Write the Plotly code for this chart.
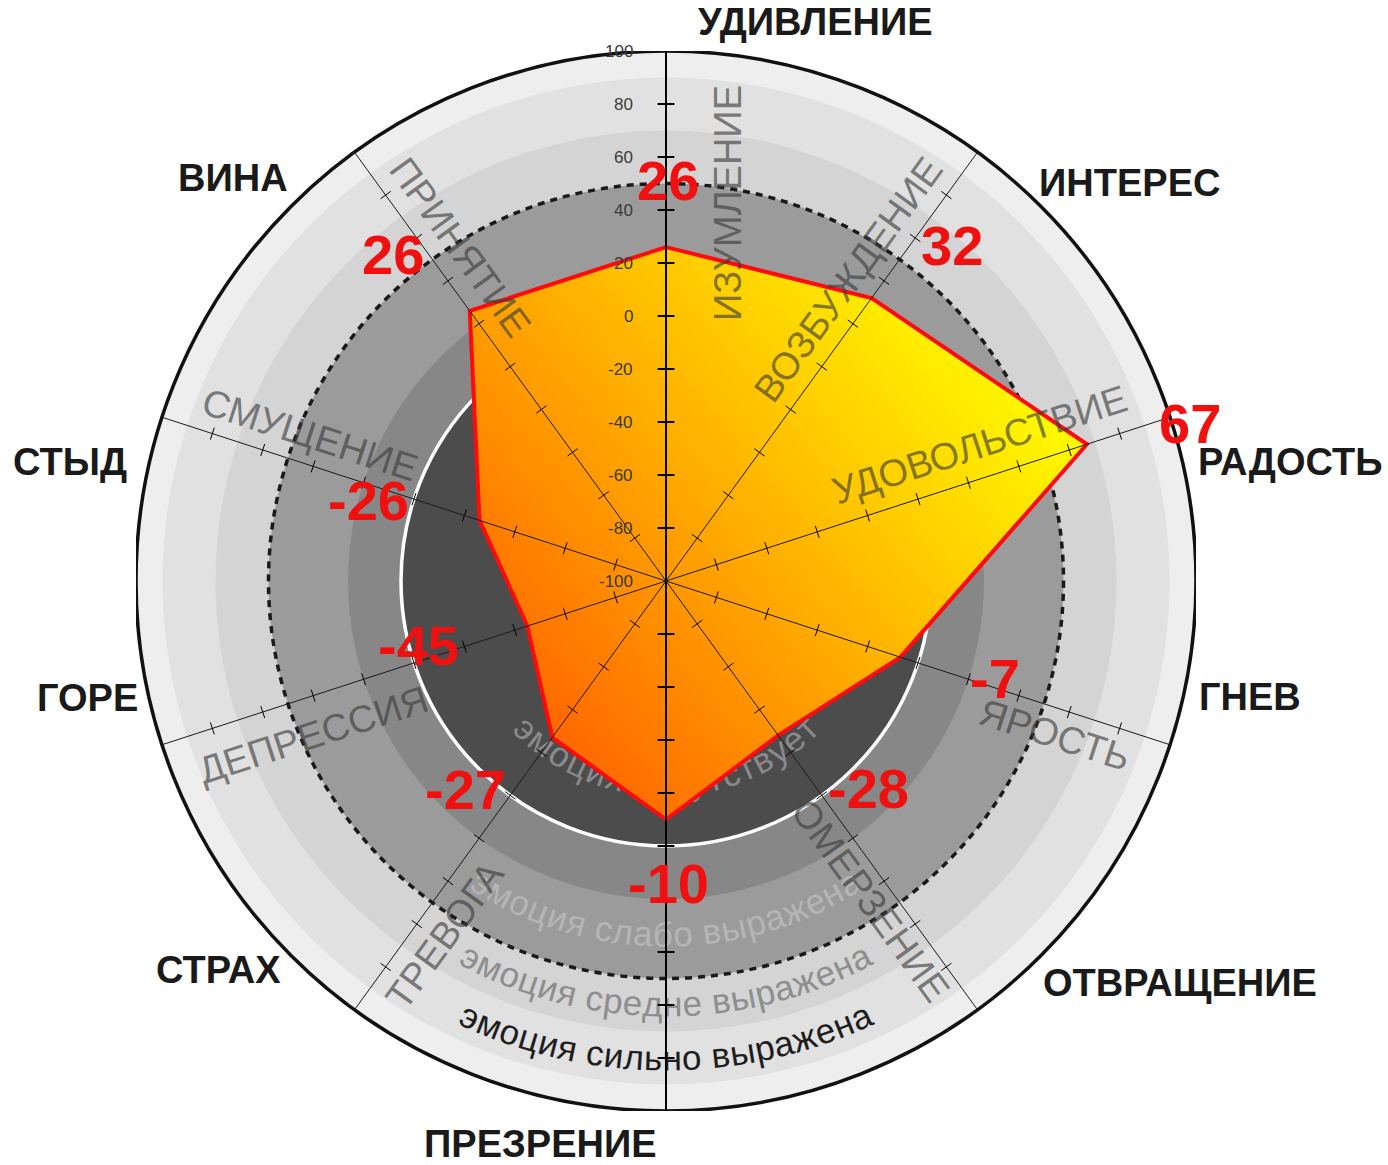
import math
import numpy as np
import plotly.graph_objects as go

# ---------------- data ----------------
categories = ["УДИВЛЕНИЕ", "ИНТЕРЕС", "РАДОСТЬ", "ГНЕВ", "ОТВРАЩЕНИЕ",
              "ПРЕЗРЕНИЕ", "СТРАХ", "ГОРЕ", "СТЫД", "ВИНА"]
values = [26, 32, 67, -7, -28, -10, -27, -45, -26, 26]
intense_labels = ["ИЗУМЛЕНИЕ", "ВОЗБУЖДЕНИЕ", "УДОВОЛЬСТВИЕ", "ЯРОСТЬ", "ОМЕРЗЕНИЕ",
                  "", "ТРЕВОГА", "ДЕПРЕССИЯ", "СМУЩЕНИЕ", "ПРИНЯТИЕ"]
tick_values = [100, 80, 60, 40, 20, 0, -20, -40, -60, -80, -100]
tick_labels = ["100", "80", "60", "40", "20", "0", "-20", "-40", "-60", "-80", "-100"]
zone_edges = [100, 90, 70, 50, 20, 0]
zone_texts = ["эмоция отсутствует", "эмоция слабо выражена",
              "эмоция средне выражена", "эмоция сильно выражена"]

# ---------------- geometry / style ----------------
W, H = 1388, 1165
CX, CY, RPX = 666, 581, 530
U = RPX / 200.0          # px per radial unit
FONT = "Liberation Sans, Arial, sans-serif"

zone_colors = ["#eeeeee", "#e1e1e1", "#d4d4d4", "#9b9b9b", "#878787", "#4c4c4c"]
# px offsets of the category labels from the outer end of each axis
cat_shift = [(149, 29), (152, -31), (120, -45), (80, 48), (202, 27),
             (-126, -33), (-136, 40), (-74, 47), (-92, -45), (-121, -26)]
# px offsets of the red value labels from their vertex
val_shift = [(2, 67), (80, 53), (103, 21), (95, -21), (90, -53),
             (2, -64), (-87, -52), (-109, -19), (-111, 20), (-77, 56)]
# px positions (from centre) of the inner grey labels
inner_pos = [(62, 378), (182, 301), (313, 136), (389, -154), (204, -319),
             None, (-221, -354), (-353, -154), (-356, 146), (-206, 334)]
# radius (px) and colour of the curved zone captions
zone_text_r = [200, 350, 420, 474]
zone_text_col = ["#8a8a8a", "#b5b5b5", "#8e8e8e", "#1e1e1e"]
ZFS = 35

n = len(categories)
theta = [90 - 360.0 / n * i for i in range(n)]

dom_x = [(CX - RPX) / W, (CX + RPX) / W]
dom_y = [(H - CY - RPX) / H, (H - CY + RPX) / H]

fig = go.Figure()
# invisible anchor trace for overlay cartesian axes (used for decoration placement)
fig.add_trace(go.Scatter(x=[0], y=[0], mode="markers",
                         marker=dict(size=1, color="rgba(0,0,0,0)"),
                         hoverinfo="skip", showlegend=False))

shapes = []
# background zones
for edge, col in zip(zone_edges, zone_colors):
    R = edge + 100
    shapes.append(dict(type="circle", xref="x", yref="y", x0=-R, x1=R, y0=-R, y1=R,
                       fillcolor=col, line=dict(width=0), layer="below"))
shapes.append(dict(type="circle", xref="x", yref="y", x0=-100, x1=100, y0=-100, y1=100,
                   line=dict(color="white", width=3.5), fillcolor="rgba(0,0,0,0)", layer="below"))
shapes.append(dict(type="circle", xref="x", yref="y", x0=-150, x1=150, y0=-150, y1=150,
                   line=dict(color="#1a1a1a", width=3.5, dash="7px,6px"),
                   fillcolor="rgba(0,0,0,0)", layer="below"))
shapes.append(dict(type="circle", xref="x", yref="y", x0=-200, x1=200, y0=-200, y1=200,
                   line=dict(color="#111111", width=3.5), fillcolor="rgba(0,0,0,0)", layer="below"))

# curved captions (one shape label per character, below the data)
CW = {"а": .556, "б": .573, "в": .531, "г": .365, "д": .583, "е": .556, "ж": .669,
      "з": .458, "и": .559, "й": .559, "к": .438, "л": .583, "м": .688, "н": .552,
      "о": .556, "п": .542, "р": .556, "с": .500, "т": .458, "у": .500, "ф": .823,
      "х": .500, "ц": .583, "ч": .521, "ш": .802, "щ": .823, "ъ": .625, "ы": .719,
      "ь": .521, "э": .510, "ю": .750, "я": .542, " ": .278}
for text, rpx, col in zip(zone_texts, zone_text_r, zone_text_col):
    widths = [CW.get(c, 0.55) * ZFS for c in text]
    total = sum(widths)
    s = 0.0
    for c, w in zip(text, widths):
        mid = s + w / 2 - total / 2
        s += w
        if c == " ":
            continue
        phi = -90 + math.degrees(mid / rpx)
        x = rpx * math.cos(math.radians(phi)) / U
        y = rpx * math.sin(math.radians(phi)) / U
        shapes.append(dict(type="rect", xref="x", yref="y",
                           x0=x - 0.2, x1=x + 0.2, y0=y - 0.2, y1=y + 0.2,
                           line=dict(width=0), fillcolor="rgba(0,0,0,0)", layer="below",
                           label=dict(text=c, textangle=-(phi + 90), textposition="middle center",
                                      font=dict(size=ZFS, color=col, family=FONT))))

# ---------------- gradient filled polygon ----------------
rho = np.array(values, float) + 100
ang = np.radians(theta)
poly = list(zip(rho * np.cos(ang), rho * np.sin(ang)))


def clip(pts, nx, ny, c):
    out = []
    m = len(pts)
    for i in range(m):
        P, Q = pts[i], pts[(i + 1) % m]
        fp = nx * P[0] + ny * P[1] - c
        fq = nx * Q[0] + ny * Q[1] - c
        if fp >= 0:
            out.append(P)
        if (fp >= 0) != (fq >= 0):
            t = fp / (fp - fq)
            out.append((P[0] + t * (Q[0] - P[0]), P[1] + t * (Q[1] - P[1])))
    return out


g = math.radians(40)
gx, gy = math.cos(g), math.sin(g)
proj = [x * gx + y * gy for x, y in poly]
pmin, pmax = min(proj), max(proj)
NB = 70
step = (pmax - pmin) / NB
c0 = np.array([255, 104, 0])
c1 = np.array([255, 252, 0])
for k in range(NB):
    lo = pmin + k * step
    hi = lo + step * 1.8
    part = clip(poly, gx, gy, lo)
    if len(part) >= 3:
        part = clip(part, -gx, -gy, -hi)
    if len(part) < 3:
        continue
    t = (k + 0.5) / NB
    col = c0 + (c1 - c0) * t
    colstr = "rgb(%d,%d,%d)" % tuple(np.round(col))
    rr = [math.hypot(px, py) - 100 for px, py in part]
    tt = [math.degrees(math.atan2(py, px)) for px, py in part]
    fig.add_trace(go.Scatterpolar(r=rr + [rr[0]], theta=tt + [tt[0]], mode="lines",
                                  fill="toself", fillcolor=colstr,
                                  line=dict(width=0, color=colstr),
                                  hoverinfo="skip", showlegend=False))

# outline
fig.add_trace(go.Scatterpolar(r=values + [values[0]], theta=theta + [theta[0]],
                              mode="lines", line=dict(color="#ff0a0a", width=4),
                              text=categories + [categories[0]], hoverinfo="text+r",
                              showlegend=False))

# spokes + ticks
tick_pos = [-80, -60, -40, -20, 0, 20, 40, 60, 80]
for th in theta:
    main = abs(abs(th) - 90) < 1e-6
    fig.add_trace(go.Scatterpolar(r=[-100, 100], theta=[th, th], mode="lines",
                                  line=dict(color="#000000" if main else "#1a1a1a",
                                            width=2 if main else 1),
                                  hoverinfo="skip", showlegend=False))
    fig.add_trace(go.Scatterpolar(r=tick_pos, theta=[th] * len(tick_pos), mode="markers",
                                  marker=dict(symbol="line-ns", size=12 if main else 9,
                                              angle=-th,
                                              line=dict(color="#000000", width=2 if main else 1)),
                                  hoverinfo="skip", showlegend=False))

# ---------------- annotations ----------------
ann = []
for v, lab in zip(tick_values, tick_labels):
    ann.append(dict(x=0, y=v + 100, xref="x", yref="y", text=lab, showarrow=False,
                    xanchor="right", yanchor="middle", xshift=-31,
                    font=dict(size=17, color="#3a3a3a", family=FONT)))

for i in range(n):
    a = math.radians(theta[i])
    ex, ey = 200 * math.cos(a), 200 * math.sin(a)
    ann.append(dict(x=ex, y=ey, xref="x", yref="y", text="<b>%s</b>" % categories[i],
                    showarrow=False, xshift=cat_shift[i][0], yshift=cat_shift[i][1],
                    font=dict(size=38, color="#1a1a1a", family=FONT)))
    vx, vy = rho[i] * math.cos(a), rho[i] * math.sin(a)
    ann.append(dict(x=vx, y=vy, xref="x", yref="y", text="<b>%d</b>" % values[i],
                    showarrow=False, xshift=val_shift[i][0], yshift=val_shift[i][1],
                    font=dict(size=56, color="#f01010", family=FONT)))
    if intense_labels[i] and inner_pos[i] is not None:
        th = theta[i]
        rot = -th if -90 <= th <= 90 else 180 - th
        rot = ((rot + 180) % 360) - 180
        ann.append(dict(x=inner_pos[i][0] / U, y=inner_pos[i][1] / U, xref="x", yref="y",
                        text=intense_labels[i], showarrow=False, textangle=rot,
                        font=dict(size=38, color="rgba(60,60,60,0.65)", family=FONT)))

fig.update_layout(
    width=W, height=H,
    margin=dict(l=0, r=0, t=0, b=0),
    paper_bgcolor="white", plot_bgcolor="white",
    showlegend=False,
    xaxis=dict(domain=dom_x, range=[-200, 200], visible=False, fixedrange=True),
    yaxis=dict(domain=dom_y, range=[-200, 200], visible=False, fixedrange=True),
    polar=dict(domain=dict(x=dom_x, y=dom_y), bgcolor="rgba(0,0,0,0)",
               radialaxis=dict(range=[-100, 100], visible=False),
               angularaxis=dict(visible=False, rotation=0, direction="counterclockwise")),
    shapes=shapes,
    annotations=ann,
)

fig.write_html("out.html", config={"displayModeBar": False},
               post_script="document.body.style.margin='0';document.body.style.overflow='hidden';")
